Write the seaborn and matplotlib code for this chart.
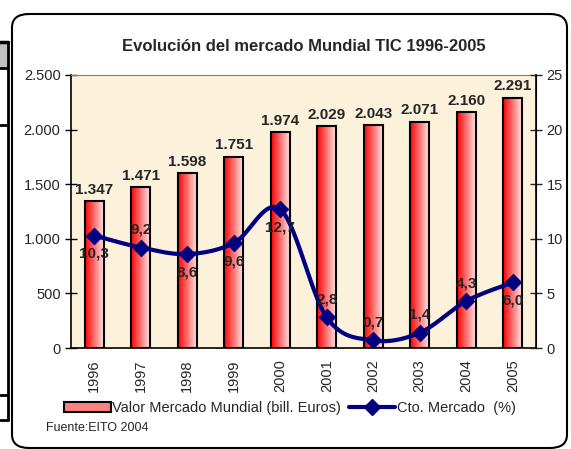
import numpy as np
import pandas as pd
import matplotlib
matplotlib.use("Agg")
import matplotlib.pyplot as plt
import seaborn as sns
from matplotlib.patches import FancyBboxPatch, Rectangle
from matplotlib.lines import Line2D
from matplotlib.colors import LinearSegmentedColormap

years = ["1996", "1997", "1998", "1999", "2000", "2001", "2002", "2003", "2004", "2005"]
valor = [1347, 1471, 1598, 1751, 1974, 2029, 2043, 2071, 2160, 2291]
crecimiento = [10.3, 9.2, 8.6, 9.6, 12.7, 2.8, 0.7, 1.4, 4.3, 6.0]
# label above (1) or below (-1) the point
label_side = [-1, 1, -1, -1, -1, 1, 1, 1, 1, -1]

sns.set_style("white")
plt.rcParams["font.family"] = ["Liberation Sans", "DejaVu Sans"]

df = pd.DataFrame({"Year": years, "Valor": valor, "Cto": crecimiento})

fig = plt.figure(figsize=(5.71, 4.49), dpi=100)
ax = fig.add_axes([71 / 571, 1 - 348 / 449, 465 / 571, 273 / 449])
ax.set_facecolor("#FCF1DA")

sns.barplot(data=df, x="Year", y="Valor", ax=ax, width=0.4,
            color="#FF4040", edgecolor="black", linewidth=1.5, zorder=2)

# gradient fill inside bars
grad_cmap = LinearSegmentedColormap.from_list("redpink", ["#FF0000", "#FFE4E4"])
gradient = np.linspace(0, 1, 256).reshape(1, -1)
for p in ax.patches:
    x0, y0 = p.get_x(), p.get_y()
    w, h = p.get_width(), p.get_height()
    im = ax.imshow(gradient, cmap=grad_cmap, aspect="auto",
                   extent=[x0, x0 + w, y0, y0 + h], zorder=2.1)
    im.set_clip_path(p)
    p.set_facecolor("none")
    p.set_zorder(2.2)

for i, v in enumerate(valor):
    ax.text(i, v + 40, f"{v:,}".replace(",", "."), ha="center", va="bottom",
            fontsize=11, fontweight="bold", zorder=5)

ax.set_xlim(-0.5, 9.5)
ax.set_ylim(0, 2500)
ax.set_yticks(range(0, 2501, 500))
ax.set_yticklabels([f"{v:,}".replace(",", ".") for v in range(0, 2501, 500)], fontsize=10.5)
ax.set_xticks(range(10))
ax.set_xticklabels(years, rotation=90, fontsize=10.5)
ax.set_xlabel("")
ax.set_ylabel("")
ax.tick_params(axis="x", length=0, pad=8)
ax.set_xticks(np.arange(-0.5, 10, 1), minor=True)
ax.tick_params(axis="x", which="minor", length=6, direction="out", color="black", width=1)
ax.tick_params(axis="y", length=8, direction="inout", color="black", width=1)
for side in ["left", "bottom"]:
    ax.spines[side].set_color("black")
    ax.spines[side].set_linewidth(1.2)
ax.spines["top"].set_color("#808080")
ax.spines["right"].set_color("black")

# secondary axis with smoothed growth line
ax2 = ax.twinx()
ax2.set_ylim(0, 25)
ax2.set_yticks(range(0, 26, 5))
ax2.tick_params(axis="y", length=8, direction="inout", labelsize=10.5, width=1)
for s in ax2.spines.values():
    s.set_visible(False)
ax2.spines["right"].set_visible(True)
ax2.spines["right"].set_color("black")
ax2.spines["right"].set_linewidth(1.2)

# cardinal spline through the points (Excel smoothed line)
xs = np.arange(len(crecimiento), dtype=float)
ys = np.array(crecimiento)
px = np.concatenate([[xs[0]], xs, [xs[-1]]])
py = np.concatenate([[ys[0]], ys, [ys[-1]]])
cx, cy = [], []
t = np.linspace(0, 1, 30)
for k in range(1, len(px) - 2):
    p0, p1, p2, p3 = np.array([px[k-1], py[k-1]]), np.array([px[k], py[k]]), np.array([px[k+1], py[k+1]]), np.array([px[k+2], py[k+2]])
    m1 = (p2 - p0) / 2
    m2 = (p3 - p1) / 2
    h00 = 2 * t**3 - 3 * t**2 + 1
    h10 = t**3 - 2 * t**2 + t
    h01 = -2 * t**3 + 3 * t**2
    h11 = t**3 - t**2
    seg = np.outer(h00, p1) + np.outer(h10, m1) + np.outer(h01, p2) + np.outer(h11, m2)
    cx.extend(seg[:, 0])
    cy.extend(seg[:, 1])
ax2.plot(cx, cy, color="#000080", linewidth=3, zorder=3)
sns.scatterplot(x=xs, y=ys, ax=ax2, marker="D", s=70, color="#000080",
                edgecolor="#000080", zorder=4)

for i, v in enumerate(crecimiento):
    off = 1.0 if label_side[i] > 0 else -1.0
    ax2.text(i, v + off, f"{v:.1f}".replace(".", ","), ha="center",
             va="bottom" if off > 0 else "top", fontsize=11, fontweight="bold", zorder=5)

ax.set_title("Evolución del mercado Mundial TIC 1996-2005", fontsize=12,
             fontweight="bold", pad=17)

handles = [Rectangle((0, 0), 1, 1, facecolor="#FF8080", edgecolor="black", linewidth=1.5),
           Line2D([], [], color="#000080", linewidth=3, marker="D", markersize=8)]
fig.legend(handles, ["Valor Mercado Mundial (bill. Euros)", "Cto. Mercado  (%)"],
           loc="center", bbox_to_anchor=(290 / 571, 1 - 408 / 449), ncol=2,
           frameon=False, fontsize=10.5, handlelength=3.2, handletextpad=0.1,
           columnspacing=0.5)

fig.text(46 / 571, 1 - 428 / 449, "Fuente:EITO 2004", fontsize=9, va="center")

# rounded outer frame
frame = FancyBboxPatch((12 / 571, 1 / 449), 555 / 571, 434 / 449,
                       boxstyle="round,pad=0,rounding_size=0.03",
                       transform=fig.transFigure, fill=False, edgecolor="black",
                       linewidth=1.5)
fig.patches.append(frame)

# fragment of a neighbouring table on the left edge
fig.patches.append(Rectangle((0, 1 - 68 / 449), 8 / 571, 26 / 449, transform=fig.transFigure,
                             facecolor="#C0C0C0", edgecolor="none"))
for yy, lw in [(42, 2.5), (68, 2), (125, 2), (395, 2), (420, 2)]:
    fig.add_artist(Line2D([0, 8 / 571], [1 - yy / 449] * 2, color="black", linewidth=lw,
                          transform=fig.transFigure))
fig.add_artist(Line2D([8 / 571] * 2, [1 - 42 / 449, 1 - 420 / 449], color="black",
                      linewidth=2, transform=fig.transFigure))

fig.savefig("out.png", dpi=100)
